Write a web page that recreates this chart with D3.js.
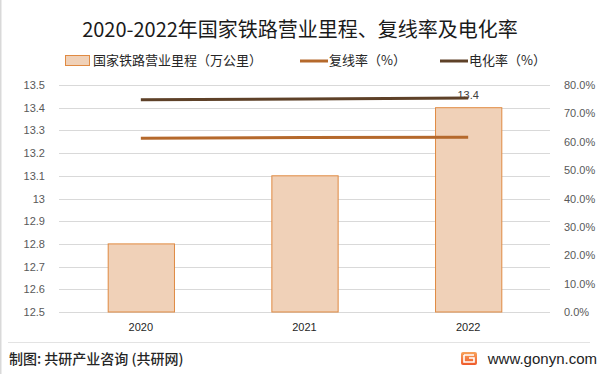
<!DOCTYPE html>
<html>
<head>
<meta charset="utf-8">
<script src="https://cdn.jsdelivr.net/npm/d3@7"></script>
<style>
  body { margin: 0; background: #fff; }
  svg { display: block; font-family: "Noto Sans CJK SC", "Noto Sans", sans-serif; }
</style>
</head>
<body>
<svg id="chart" width="601" height="374"></svg>
<script>
// data
const years = ['2020', '2021', '2022'];
const mileage = [12.8, 13.1, 13.4];          // 国家铁路营业里程（万公里）
const doubleRate = [61.2, 61.5, 61.6];       // 复线率（%）
const electricRate = [74.8, 75.1, 75.4];     // 电化率（%）
const leftTicks = [12.5, 12.6, 12.7, 12.8, 12.9, 13, 13.1, 13.2, 13.3, 13.4, 13.5];
const rightTicks = [0, 10, 20, 30, 40, 50, 60, 70, 80];

const svg = d3.select('#chart');
const plotLeft = 59, plotRight = 550, plotTop = 85, plotBottom = 312;

// frame line at left edge
svg.append('line')
    .attr('x1', 0.5).attr('x2', 0.5).attr('y1', 0).attr('y2', 374)
    .attr('stroke', '#d9d9d9').attr('stroke-width', 2);

let x = d3.scaleBand().domain(years).range([plotLeft, plotRight]).paddingInner(0.595).paddingOuter(0.2975);
let yL = d3.scaleLinear().domain([12.5, 13.5]).range([plotBottom, plotTop]);
let yR = d3.scaleLinear().domain([0, 80]).range([plotBottom, plotTop]);

// title
svg.append('text')
    .attr('x', 300).attr('y', 37)
    .attr('text-anchor', 'middle')
    .attr('font-size', 20)
    .attr('fill', '#1a1a1a')
    .text('2020-2022年国家铁路营业里程、复线率及电化率');

// grid
svg.append('g').selectAll('line')
    .data(leftTicks)
    .join('line')
    .attr('x1', plotLeft).attr('x2', plotRight)
    .attr('y1', d => Math.round(yL(d)) + 0.5)
    .attr('y2', d => Math.round(yL(d)) + 0.5)
    .attr('stroke', '#d9d9d9')
    .attr('stroke-width', 1);

// left axis
let axL = svg.append('g')
    .attr('transform', `translate(${plotLeft - 11},0)`)
    .call(d3.axisLeft(yL).tickValues(leftTicks).tickSize(0).tickFormat(d3.format('')));
axL.select('.domain').remove();
axL.selectAll('text')
    .attr('font-size', 11).attr('fill', '#595959')
    .attr('font-family', '"Liberation Sans", sans-serif');

// right axis
let axR = svg.append('g')
    .attr('transform', `translate(${plotRight + 11},0)`)
    .call(d3.axisRight(yR).tickValues(rightTicks).tickSize(0).tickFormat(d => d.toFixed(1) + '%'));
axR.select('.domain').remove();
axR.selectAll('text')
    .attr('font-size', 11).attr('fill', '#595959')
    .attr('font-family', '"Liberation Sans", sans-serif');

// bars
svg.append('g').selectAll('rect')
    .data(years)
    .join('rect')
    .attr('x', d => x(d) + 0.5)
    .attr('y', (d, i) => yL(mileage[i]))
    .attr('width', x.bandwidth())
    .attr('height', (d, i) => yL(12.5) - yL(mileage[i]))
    .attr('fill', '#f0d1b8')
    .attr('stroke', '#e08a42')
    .attr('stroke-width', 1);

// bar label on last bar
svg.append('text')
    .attr('x', x('2022') + x.bandwidth() / 2)
    .attr('y', yL(13.4) - 9)
    .attr('text-anchor', 'middle')
    .attr('font-size', 11).attr('fill', '#404040')
    .attr('font-family', '"Liberation Sans", sans-serif')
    .text(mileage[2]);

// x labels
svg.append('g').selectAll('text')
    .data(years)
    .join('text')
    .attr('x', d => x(d) + x.bandwidth() / 2)
    .attr('y', 331)
    .attr('text-anchor', 'middle')
    .attr('font-size', 11).attr('fill', '#262626')
    .attr('font-family', '"Liberation Sans", sans-serif')
    .text(d => d);

// lines
let line = d3.line()
    .x((d, i) => x(years[i]) + x.bandwidth() / 2)
    .y(d => yR(d));

svg.append('path')
    .datum(doubleRate)
    .attr('d', line)
    .attr('fill', 'none')
    .attr('stroke', '#b5692c')
    .attr('stroke-width', 3);

svg.append('path')
    .datum(electricRate)
    .attr('d', line)
    .attr('fill', 'none')
    .attr('stroke', '#5e4128')
    .attr('stroke-width', 3);

// legend
let lg = svg.append('g').attr('font-size', 13).attr('fill', '#262626');
lg.append('rect')
    .attr('x', 65.5).attr('y', 55.5).attr('width', 24).attr('height', 10)
    .attr('fill', '#f0d1b8').attr('stroke', '#e08a42');
lg.append('text').attr('x', 93).attr('y', 65).text('国家铁路营业里程（万公里）');
lg.append('line')
    .attr('x1', 300).attr('x2', 328).attr('y1', 61).attr('y2', 61)
    .attr('stroke', '#b5692c').attr('stroke-width', 3);
lg.append('text').attr('x', 329).attr('y', 65).text('复线率（%）');
lg.append('line')
    .attr('x1', 440).attr('x2', 468).attr('y1', 61).attr('y2', 61)
    .attr('stroke', '#5e4128').attr('stroke-width', 3);
lg.append('text').attr('x', 469).attr('y', 65).text('电化率（%）');

// footer
svg.append('line')
    .attr('x1', 8).attr('x2', 590).attr('y1', 342.5).attr('y2', 342.5)
    .attr('stroke', '#e3e3e3');
svg.append('text')
    .attr('x', 9).attr('y', 364)
    .attr('font-size', 14).attr('font-weight', 500).attr('fill', '#262626')
    .text('制图: 共研产业咨询 (共研网)');

let grad = svg.append('defs').append('linearGradient')
    .attr('id', 'logo').attr('x1', 0).attr('y1', 0).attr('x2', 0).attr('y2', 1);
grad.append('stop').attr('offset', 0).attr('stop-color', '#f7a35c');
grad.append('stop').attr('offset', 1).attr('stop-color', '#ef5a2a');
svg.append('rect')
    .attr('x', 461).attr('y', 352).attr('width', 16).attr('height', 13).attr('rx', 2)
    .attr('fill', 'url(#logo)');
svg.append('path')
    .attr('d', 'M464,355 h10 M464,355 v7 h10 v-4 h-5')
    .attr('fill', 'none').attr('stroke', '#fff').attr('stroke-width', 1.6);
svg.append('text')
    .attr('x', 597).attr('y', 364)
    .attr('text-anchor', 'end')
    .attr('font-size', 15).attr('fill', '#222')
    .attr('font-family', '"Liberation Sans", sans-serif')
    .text('www.gonyn.com');
</script>
</body>
</html>
